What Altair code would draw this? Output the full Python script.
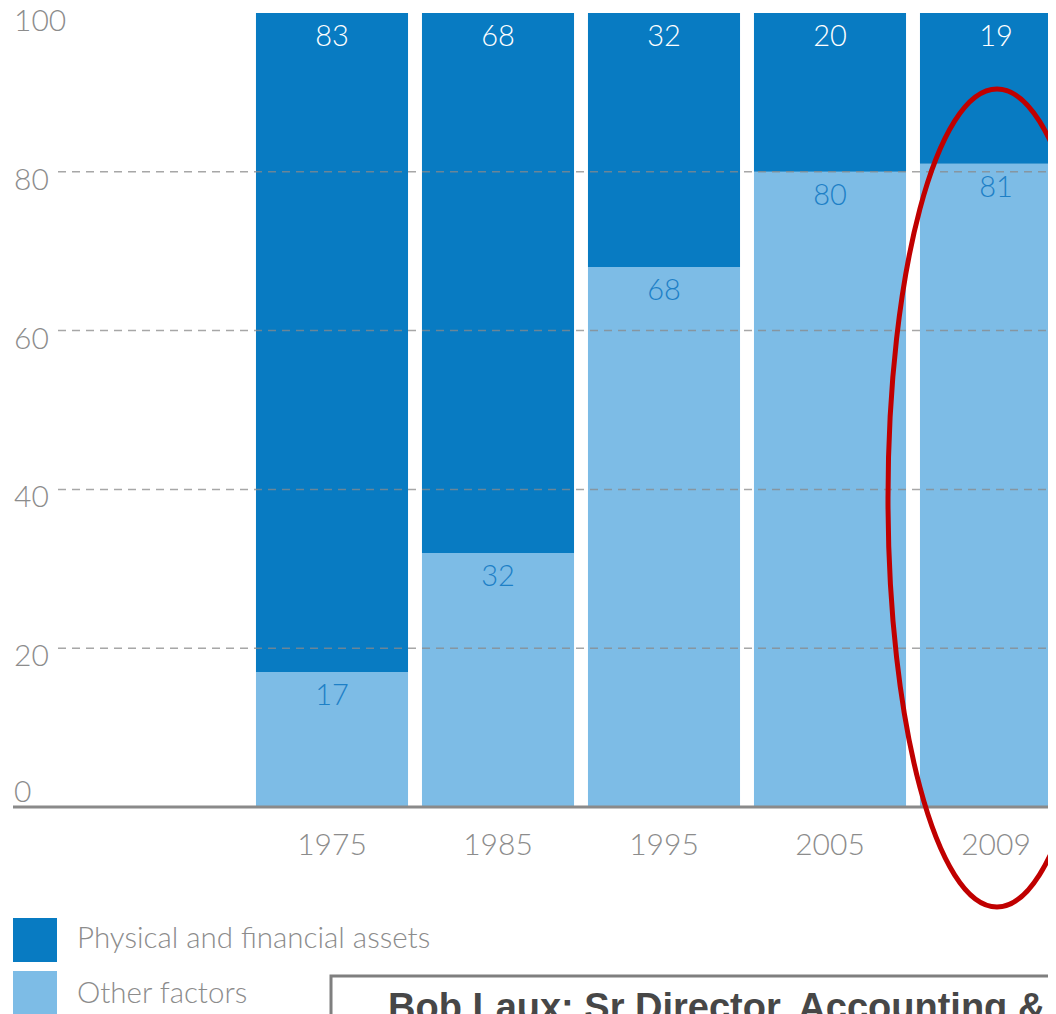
import altair as alt
import pandas as pd

# ---- data ----
years = ["1975", "1985", "1995", "2005", "2009"]
physical = [83, 68, 32, 20, 19]
other = [17, 32, 68, 80, 81]
series_names = ["Physical and financial assets", "Other factors"]
y_tick_labels = [100, 80, 60, 40, 20]
zero_label = [0]
grid_values = [80, 60, 40, 20]
note_text = "Bob Laux: Sr Director, Accounting & Reporting"

# ---- styling ----
DARK = "#087BC2"
LIGHT = "#7DBCE6"
LIGHT_LABEL = "#1E80C6"
GRAY_TXT = "#8C8C8C"
FONT = "Lato"

rows = []
for i, yr in enumerate(years):
    rows.append(dict(idx=i, year=yr, series=series_names[1], start=0,
                     end=other[i], value=other[i]))
    rows.append(dict(idx=i, year=yr, series=series_names[0], start=other[i],
                     end=other[i] + physical[i], value=physical[i]))
df = pd.DataFrame(rows)
df_years = pd.DataFrame({"idx": list(range(len(years))), "year": years})
df_ticks = pd.DataFrame({"v": y_tick_labels})
df_zero = pd.DataFrame({"v": zero_label})
df_grid = pd.DataFrame({"v": grid_values})
df_one = pd.DataFrame({"a": [0]})

W, H = 1035, 1001
x0 = -319 / 166.0
xs = alt.Scale(domain=[x0, x0 + W / 166.0], nice=False, zero=False)
ys = alt.Scale(domain=[100 - H / 7.94, 100], nice=False, zero=False)
cscale = alt.Scale(domain=series_names, range=[DARK, LIGHT])

bars = alt.Chart(df).transform_calculate(
    xa="datum.idx - 0.458", xb="datum.idx + 0.458"
).mark_rect().encode(
    x=alt.X("xa:Q", scale=xs, axis=None),
    x2="xb:Q",
    y=alt.Y("start:Q", scale=ys, axis=None),
    y2="end:Q",
    color=alt.Color("series:N", scale=cscale, legend=None),
)

lab_phys = alt.Chart(df).transform_filter(
    alt.datum.series == series_names[0]
).mark_text(font=FONT, fontSize=29, color="white", baseline="middle", dy=24,
            fontWeight=300).encode(
    x=alt.X("idx:Q", scale=xs, axis=None),
    y=alt.Y("end:Q", scale=ys, axis=None),
    text="value:Q",
)

lab_other = alt.Chart(df).transform_filter(
    alt.datum.series == series_names[1]
).mark_text(font=FONT, fontSize=29, color=LIGHT_LABEL, baseline="middle", dy=24,
            fontWeight=300).encode(
    x=alt.X("idx:Q", scale=xs, axis=None),
    y=alt.Y("end:Q", scale=ys, axis=None),
    text="value:Q",
)

grid = alt.Chart(df_grid).mark_rule(color="#8A8A8A", strokeWidth=1.5,
                                    strokeDash=[8, 6], opacity=0.75).encode(
    y=alt.Y("v:Q", scale=ys, axis=None),
    x=alt.value(45), x2=alt.value(W),
)

baseline = alt.Chart(df_zero).mark_rule(color="#8A8A8A", strokeWidth=3).encode(
    y=alt.Y("v:Q", scale=ys, axis=None),
    x=alt.value(0), x2=alt.value(W),
)

tick_text = alt.Chart(df_ticks).mark_text(
    font=FONT, fontSize=30, color=GRAY_TXT, align="left", baseline="middle",
    dy=9, fontWeight=300).encode(
    y=alt.Y("v:Q", scale=ys, axis=None),
    x=alt.value(1),
    text="v:Q",
)

zero_text = alt.Chart(df_zero).mark_text(
    font=FONT, fontSize=30, color=GRAY_TXT, align="left", baseline="middle",
    dy=-14, fontWeight=300).encode(
    y=alt.Y("v:Q", scale=ys, axis=None),
    x=alt.value(1),
    text="v:Q",
)

year_text = alt.Chart(df_years).mark_text(
    font=FONT, fontSize=30, color=GRAY_TXT, baseline="middle",
    fontWeight=300).encode(
    x=alt.X("idx:Q", scale=xs, axis=None),
    y=alt.value(833),
    text="year:N",
)

# legend (custom, drawn in the lower-left corner)
df_leg = pd.DataFrame({"series": series_names, "row": [0, 1]})
leg_sq1 = alt.Chart(df_leg).transform_filter(alt.datum.row == 0).mark_rect().encode(
    x=alt.value(0), x2=alt.value(44), y=alt.value(905), y2=alt.value(949),
    color=alt.Color("series:N", scale=cscale, legend=None))
leg_sq2 = alt.Chart(df_leg).transform_filter(alt.datum.row == 1).mark_rect().encode(
    x=alt.value(0), x2=alt.value(44), y=alt.value(958), y2=alt.value(1002),
    color=alt.Color("series:N", scale=cscale, legend=None))
leg_t1 = alt.Chart(df_leg).transform_filter(alt.datum.row == 0).mark_text(
    font=FONT, fontSize=29.5, color=GRAY_TXT, align="left", baseline="middle",
    fontWeight=300).encode(x=alt.value(64), y=alt.value(926), text="series:N")
leg_t2 = alt.Chart(df_leg).transform_filter(alt.datum.row == 1).mark_text(
    font=FONT, fontSize=29.5, color=GRAY_TXT, align="left", baseline="middle",
    fontWeight=300).encode(x=alt.value(64), y=alt.value(981), text="series:N")

# annotations: red ellipse around 2009 and the speaker box
k = 0.55228
rx = 0.2665
kx = rx * k
ell_path = (f"M 0 -1 C {kx} -1 {rx} {-k} {rx} 0 C {rx} {k} {kx} 1 0 1 "
            f"C {-kx} 1 {-rx} {k} {-rx} 0 C {-rx} {-k} {-kx} -1 0 -1 Z")
ellipse = alt.Chart(df_one).mark_point(
    shape=ell_path, filled=False, stroke="#C00000", strokeWidth=5, opacity=1,
    size=818 * 818).encode(x=alt.value(984), y=alt.value(485))

box = alt.Chart(df_one).mark_rect(fill="white", stroke="#7F7F7F",
                                  strokeWidth=3).encode(
    x=alt.value(318), x2=alt.value(1200), y=alt.value(963), y2=alt.value(1200))
note = alt.Chart(pd.DataFrame({"t": [note_text]})).mark_text(
    font="Liberation Sans", fontSize=38, fontWeight="bold", color="#474747",
    align="left", baseline="alphabetic").encode(
    x=alt.value(375), y=alt.value(1007), text="t:N")

chart = alt.layer(
    bars, grid, baseline, lab_phys, lab_other, tick_text, zero_text, year_text,
    leg_sq1, leg_sq2, leg_t1, leg_t2, ellipse, box, note
).properties(
    width=W, height=H,
    autosize=alt.AutoSizeParams(type="none"),
    padding={"left": 5, "top": 5, "right": 0, "bottom": 0},
    background="white",
).configure_view(stroke=None)

chart.save("out.html", embed_options={"renderer": "svg", "actions": False})
